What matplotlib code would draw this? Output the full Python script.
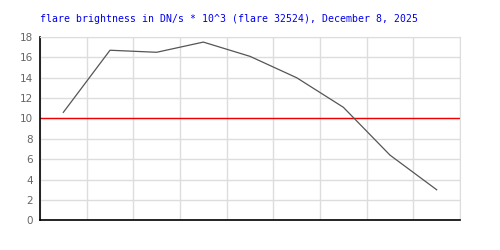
import matplotlib.pyplot as plt

# ---------- data ----------
title = 'flare brightness in DN/s * 10^3 (flare 32524), December 8, 2025'
brightness = [10.6, 16.7, 16.5, 17.5, 16.1, 14.0, 11.1, 6.4, 3.0]
threshold = 10
y_ticks = [0, 2, 4, 6, 8, 10, 12, 14, 16, 18]

# ---------- plot ----------
fig = plt.figure(figsize=(5, 2.5), dpi=100)
ax = fig.add_axes([40 / 500, 1 - 220.3 / 250, 420 / 500, 183.3 / 250])

xs = [i + 0.5 for i in range(len(brightness))]
ax.plot(xs, brightness, color='#555555', linewidth=0.9, zorder=3)
ax.axhline(threshold, color='#ee0000', linewidth=1.0, zorder=2)

ax.set_xlim(0, len(brightness))
ax.set_ylim(0, 18)
ax.set_xticks(range(len(brightness) + 1))
ax.set_xticklabels([])
ax.set_yticks(y_ticks)
ax.set_yticklabels([str(t) for t in y_ticks], fontsize=7.5, color='#666666')
ax.tick_params(length=0, pad=5)
ax.grid(True, color='#dddddd', linewidth=1.0, zorder=0)
ax.set_axisbelow(True)

for side in ['top', 'right']:
    ax.spines[side].set_color('#dddddd')
for side in ['left', 'bottom']:
    ax.spines[side].set_color('black')
    ax.spines[side].set_linewidth(1.2)

fig.text(40 / 500, 1 - 19 / 250, title, fontsize=7.1, color='#0000ee',
         family='DejaVu Sans Mono', va='center', ha='left')

fig.savefig('out.png', dpi=100, facecolor='white')
